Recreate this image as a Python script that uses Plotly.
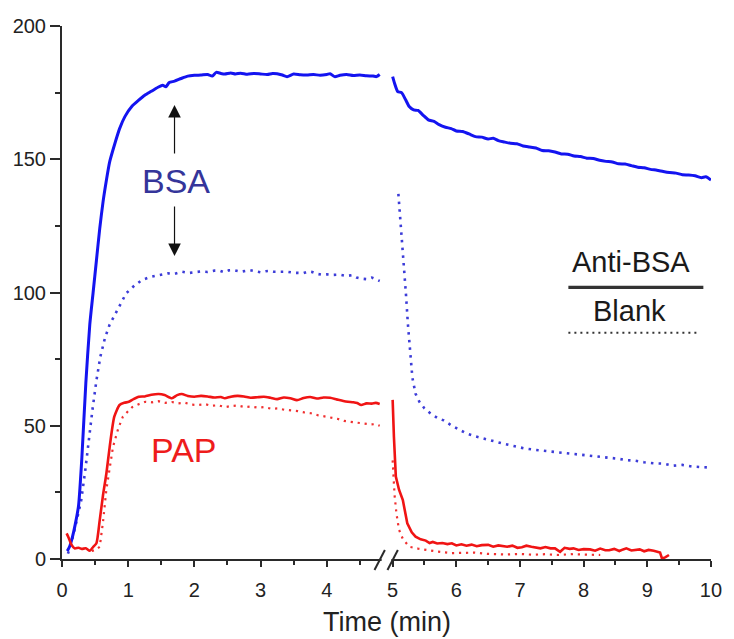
import plotly.graph_objects as go

# Binding response vs time; the time axis is broken between the
# association phase (0-4.8 min) and the dissociation phase (5-10 min).

# BSA on the anti-BSA surface (solid blue)
bsa_anti_t1 = [0.08, 0.12, 0.16, 0.20, 0.25, 0.30, 0.36, 0.42, 0.47, 0.52, 0.57, 0.62, 0.67, 0.72,
               0.80, 0.87, 0.95, 1.06, 1.15, 1.25, 1.35, 1.45, 1.52, 1.57, 1.62, 1.70, 1.80, 1.90,
               2.00, 2.10, 2.20, 2.27, 2.33, 2.40, 2.46, 2.55, 2.62, 2.70, 2.80, 2.90, 3.00, 3.10,
               3.18, 3.25, 3.33, 3.40, 3.50, 3.60, 3.70, 3.80, 3.90, 4.00, 4.05, 4.12, 4.20, 4.30,
               4.40, 4.50, 4.60, 4.70, 4.75, 4.80]
bsa_anti_v1 = [3.0, 5.0, 8.5, 13.0, 20.0, 38.0, 66.0, 88.0, 100.0, 112.0, 124.0, 134.0, 142.0, 149.0,
               156.0, 161.5, 166.0, 170.0, 172.0, 174.0, 175.5, 177.0, 177.8, 177.2, 178.8, 179.3, 180.3, 181.2,
               181.5, 181.6, 181.8, 181.2, 182.6, 182.2, 182.0, 182.4, 182.0, 182.3, 181.9, 182.2, 182.0, 181.8,
               182.2, 182.1, 181.6, 181.0, 182.0, 181.7, 181.6, 181.8, 181.5, 181.8, 182.1, 181.0, 181.5, 181.8,
               181.4, 181.6, 181.3, 181.2, 181.0, 181.8]
bsa_anti_t2 = [5.00, 5.03, 5.08, 5.14, 5.20, 5.26, 5.33, 5.40, 5.48, 5.56, 5.65, 5.73, 5.83, 5.92,
               6.00, 6.10, 6.20, 6.30, 6.40, 6.50, 6.58, 6.66, 6.75, 6.85, 6.95, 7.05, 7.15, 7.25,
               7.35, 7.45, 7.55, 7.65, 7.75, 7.85, 7.95, 8.05, 8.15, 8.25, 8.35, 8.45, 8.55, 8.65,
               8.75, 8.85, 8.95, 9.05, 9.15, 9.25, 9.35, 9.45, 9.55, 9.65, 9.75, 9.85, 9.92, 10.0]
bsa_anti_v2 = [181.0, 178.5, 175.4, 175.0, 172.5, 169.8, 168.5, 168.3, 166.5, 164.8, 164.2, 163.0, 162.0, 161.5,
               160.6, 160.4, 159.5, 158.5, 158.3, 157.6, 157.9, 157.0, 156.5, 156.0, 155.8, 155.0, 154.6, 154.2,
               153.3, 153.2, 152.7, 152.0, 151.9, 151.2, 151.0, 150.4, 150.3, 149.6, 149.2, 149.0, 148.3, 148.2,
               147.6, 147.0, 146.8, 146.2, 145.9, 145.4, 145.0, 144.8, 144.2, 144.1, 143.8, 143.1, 143.4, 142.2]

# BSA on the blank surface (dotted blue)
bsa_blank_t1 = [0.09, 0.14, 0.20, 0.25, 0.29, 0.35, 0.40, 0.46, 0.52, 0.58, 0.65, 0.72, 0.77, 0.87,
                0.97, 1.09, 1.21, 1.33, 1.46, 1.60, 1.70, 1.81, 1.91, 2.00, 2.10, 2.20, 2.30, 2.38,
                2.45, 2.52, 2.60, 2.70, 2.78, 2.84, 2.92, 3.00, 3.08, 3.15, 3.20, 3.30, 3.40, 3.50,
                3.58, 3.65, 3.72, 3.78, 3.85, 3.92, 4.00, 4.10, 4.20, 4.30, 4.38, 4.45, 4.52, 4.60,
                4.68, 4.75, 4.80]
bsa_blank_v1 = [2.0, 6.0, 12.0, 17.0, 22.0, 33.0, 44.0, 56.0, 67.0, 76.0, 83.0, 88.0, 90.3, 95.0,
                99.7, 102.5, 104.7, 105.8, 106.6, 107.2, 107.0, 107.8, 107.3, 107.6, 107.9, 107.7, 108.2, 108.2,
                107.6, 108.3, 108.4, 107.8, 108.0, 108.4, 108.0, 107.6, 108.0, 108.1, 107.8, 107.9, 107.8, 107.4,
                107.2, 107.3, 107.9, 107.7, 107.0, 106.7, 106.8, 106.6, 106.7, 106.2, 106.5, 105.6, 105.2, 105.0,
                105.6, 104.9, 104.3]
bsa_blank_t2 = [5.09, 5.12, 5.15, 5.18, 5.21, 5.24, 5.27, 5.31, 5.36, 5.42, 5.50, 5.60, 5.70, 5.80,
                5.92, 6.04, 6.15, 6.30, 6.45, 6.60, 6.75, 6.90, 7.07, 7.22, 7.38, 7.50, 7.63, 7.80,
                7.95, 8.10, 8.25, 8.40, 8.55, 8.67, 8.80, 8.95, 9.10, 9.25, 9.40, 9.55, 9.70, 9.85, 10.0]
bsa_blank_v2 = [137.0, 128.0, 118.0, 108.0, 99.0, 88.0, 78.0, 68.0, 62.0, 59.0, 56.5, 54.5, 53.0, 52.0,
                50.2, 48.6, 47.2, 46.0, 45.0, 44.0, 43.2, 42.4, 41.5, 41.0, 40.6, 40.3, 40.0, 39.5,
                39.2, 38.7, 38.4, 37.9, 37.6, 37.1, 36.9, 36.3, 35.9, 35.8, 35.0, 35.3, 34.7, 34.5, 34.3]

# PAP on the anti-BSA surface (solid red)
pap_anti_t1 = [0.07, 0.10, 0.14, 0.19, 0.25, 0.30, 0.36, 0.42, 0.47, 0.52, 0.57, 0.62, 0.67, 0.72,
               0.79, 0.87, 0.94, 1.01, 1.08, 1.16, 1.25, 1.35, 1.46, 1.55, 1.66, 1.74, 1.81, 1.90,
               2.00, 2.10, 2.20, 2.30, 2.40, 2.46, 2.55, 2.65, 2.75, 2.85, 2.95, 3.05, 3.15, 3.25,
               3.35, 3.45, 3.55, 3.65, 3.75, 3.85, 3.95, 4.05, 4.15, 4.25, 4.32, 4.40, 4.46, 4.52,
               4.60, 4.68, 4.74, 4.80]
pap_anti_v1 = [9.6, 8.0, 5.5, 4.0, 4.2, 3.8, 4.0, 3.1, 4.5, 5.9, 14.6, 24.0, 32.0, 42.0,
               53.4, 57.8, 58.6, 59.0, 60.0, 60.9, 61.0, 61.6, 61.9, 61.5, 60.3, 61.5, 61.9, 61.2,
               60.9, 61.2, 61.0, 60.6, 60.8, 60.3, 60.9, 61.2, 61.0, 60.5, 60.7, 60.9, 60.5, 60.0,
               60.6, 60.3, 59.6, 60.4, 60.8, 60.2, 60.6, 60.5, 59.9, 59.3, 59.0, 58.8, 58.5, 57.8,
               58.4, 58.3, 58.6, 58.2]
pap_anti_t2 = [5.00, 5.01, 5.02, 5.05, 5.10, 5.16, 5.23, 5.30, 5.36, 5.44, 5.52, 5.58, 5.63, 5.70,
               5.78, 5.86, 5.93, 6.00, 6.08, 6.16, 6.24, 6.32, 6.40, 6.50, 6.58, 6.66, 6.74, 6.80,
               6.88, 6.96, 7.03, 7.10, 7.18, 7.26, 7.32, 7.40, 7.48, 7.55, 7.63, 7.70, 7.78, 7.84,
               7.92, 8.00, 8.10, 8.18, 8.26, 8.34, 8.40, 8.48, 8.56, 8.62, 8.67, 8.75, 8.82, 8.88,
               8.95, 9.02, 9.10, 9.16, 9.20, 9.23, 9.28, 9.34]
pap_anti_v2 = [59.7, 52.0, 45.9, 30.9, 26.0, 22.1, 13.4, 10.0, 8.4, 7.4, 6.9, 6.0, 6.4, 5.8,
               6.0, 5.6, 5.9, 5.1, 5.5, 5.0, 5.4, 4.8, 5.2, 5.3, 4.6, 5.1, 4.7, 4.6,
               5.0, 4.2, 4.4, 5.0, 4.6, 4.1, 4.0, 4.5, 4.0, 4.0, 2.7, 4.2, 3.8, 4.0,
               3.4, 3.7, 3.6, 3.1, 3.9, 3.3, 3.3, 3.8, 3.0, 3.6, 4.0, 3.2, 3.4, 3.6,
               2.9, 3.4, 3.1, 2.7, 2.4, 0.2, 0.6, 1.5]

# PAP on the blank surface (dotted red)
pap_blank_t1 = [0.45, 0.52, 0.57, 0.62, 0.67, 0.72, 0.77, 0.85, 0.92, 1.00, 1.06, 1.15, 1.26, 1.36,
                1.46, 1.56, 1.66, 1.76, 1.86, 1.96, 2.06, 2.16, 2.26, 2.36, 2.46, 2.56, 2.66, 2.76,
                2.86, 2.96, 3.06, 3.16, 3.26, 3.36, 3.46, 3.56, 3.66, 3.76, 3.86, 3.96, 4.06, 4.16,
                4.26, 4.36, 4.46, 4.56, 4.66, 4.74, 4.80]
pap_blank_v1 = [3.0, 3.5, 4.6, 14.0, 26.0, 34.0, 42.0, 49.0, 53.4, 55.5, 57.0, 58.0, 59.0, 58.8,
                59.2, 58.6, 58.9, 58.4, 58.6, 57.9, 57.8, 58.1, 57.5, 57.7, 57.0, 57.4, 57.6, 57.0,
                57.2, 56.8, 57.0, 56.4, 56.5, 56.0, 55.8, 55.5, 55.0, 54.7, 54.0, 53.6, 53.0, 52.6,
                51.8, 51.5, 51.3, 50.8, 50.5, 50.6, 50.0]
pap_blank_t2 = [5.00, 5.03, 5.06, 5.10, 5.16, 5.26, 5.40, 5.52, 5.70, 5.93, 6.10, 6.29, 6.50, 6.81,
                7.00, 7.20, 7.40, 7.60, 7.80, 8.05, 8.26]
pap_blank_v2 = [37.0, 24.0, 17.0, 11.0, 7.5, 4.6, 3.9, 3.4, 2.8, 2.2, 2.3, 2.4, 1.9, 1.7,
                1.9, 1.6, 1.8, 1.5, 1.8, 1.5, 1.5]

x_ticks_left = [0, 1, 2, 3, 4]
x_ticks_right = [5, 6, 7, 8, 9, 10]
y_ticks = [0, 50, 100, 150, 200]

left_range = [0, 4.88]
right_range = [4.88, 10]
split = 0.4977          # where the left time segment hands over to the right one

BLUE = "#1414f0"
BLUE_DOT = "#3c3cd8"
RED = "#f01414"
RED_DOT = "#f03030"
AXIS = "#2a2a2a"
FONT = "Arial, Liberation Sans, sans-serif"

fig = go.Figure()


def add(t, v, axis, color, width, dash="solid", shape="linear"):
    fig.add_trace(go.Scatter(x=t, y=v, xaxis=axis, yaxis="y", mode="lines",
                             line=dict(color=color, width=width, dash=dash,
                                       shape=shape, smoothing=0.6),
                             showlegend=False, hoverinfo="skip"))


add(bsa_blank_t1, bsa_blank_v1, "x", BLUE_DOT, 2.6, "2.5px,5.2px")
add(bsa_blank_t2, bsa_blank_v2, "x2", BLUE_DOT, 2.6, "2.5px,5.2px")
add(pap_blank_t1, pap_blank_v1, "x", RED_DOT, 2.2, "2.2px,4.8px")
add(pap_blank_t2, pap_blank_v2, "x2", RED_DOT, 2.2, "2.2px,4.8px")
add(bsa_anti_t1, bsa_anti_v1, "x", BLUE, 3.0, shape="spline")
add(bsa_anti_t2, bsa_anti_v2, "x2", BLUE, 3.0, shape="spline")
add(pap_anti_t1, pap_anti_v1, "x", RED, 2.6, shape="spline")
add(pap_anti_t2, pap_anti_v2, "x2", RED, 2.6)

tickfont = dict(family=FONT, size=20, color="#222")
common_x = dict(showline=True, linecolor=AXIS, linewidth=2, ticks="outside",
                ticklen=6, tickwidth=2, tickcolor=AXIS, tickmode="array",
                showgrid=False, zeroline=False, anchor="y", tickfont=tickfont,
                ticklabelstandoff=6,
                minor=dict(ticks="outside", tick0=0, dtick=0.5, ticklen=4,
                           tickwidth=1.6, tickcolor=AXIS, showgrid=False))

fig.update_layout(
    width=734, height=639,
    margin=dict(l=62, r=15, t=26, b=80),
    paper_bgcolor="white", plot_bgcolor="white",
    xaxis=dict(domain=[0, split], range=left_range, tickvals=x_ticks_left, **common_x),
    xaxis2=dict(domain=[split, 1], range=right_range, tickvals=x_ticks_right, **common_x),
    yaxis=dict(range=[0, 200], tickmode="array", tickvals=y_ticks, anchor="x",
               showline=True, linecolor=AXIS, linewidth=2, ticks="outside",
               ticklen=10, tickwidth=2, tickcolor=AXIS, showgrid=False,
               zeroline=False, tickfont=tickfont,
               minor=dict(ticks="outside", tick0=0, dtick=25, ticklen=5,
                          tickwidth=1.6, tickcolor=AXIS, showgrid=False)),
)

# axis break marks "//" on the time axis
fig.add_shape(type="rect", xref="paper", yref="paper", x0=0.4925, x1=0.5075,
              y0=-0.008, y1=0.008, fillcolor="white", line=dict(width=0), layer="above")
for xa in (0.4815, 0.5015):
    fig.add_shape(type="line", xref="paper", yref="paper", x0=xa, y0=-0.0206,
                  x1=xa + 0.0160, y1=0.0169, line=dict(color=AXIS, width=2), layer="above")

# key: solid = Anti-BSA surface, dotted = Blank surface
fig.add_shape(type="line", xref="x2", yref="y", x0=7.76, x1=9.88, y0=101.95, y1=101.95,
              line=dict(color="#333", width=3.3))
fig.add_shape(type="line", xref="x2", yref="y", x0=7.76, x1=9.83, y0=84.9, y1=84.9,
              line=dict(color="#333", width=2.2, dash="2px,4px"))

annotations = [
    dict(text="Anti-BSA", x=8.75, y=111.3, xref="x2", yref="y", showarrow=False,
         font=dict(family=FONT, size=29, color="#1a1a1a")),
    dict(text="Blank", x=8.72, y=93.1, xref="x2", yref="y", showarrow=False,
         font=dict(family=FONT, size=29, color="#1a1a1a")),
    dict(text="BSA", x=1.716, y=141.8, xref="x", yref="y", showarrow=False,
         font=dict(family=FONT, size=34, color="#35359a")),
    dict(text="PAP", x=1.85, y=40.9, xref="x", yref="y", showarrow=False,
         font=dict(family=FONT, size=34, color="#ee1c1c")),
    dict(text="", x=1.70, y=170.4, xref="x", yref="y", ax=0, ay=50, showarrow=True,
         arrowhead=2, arrowsize=2.1, arrowwidth=1.2, arrowcolor="#111"),
    dict(text="", x=1.70, y=113.7, xref="x", yref="y", ax=0, ay=-51, showarrow=True,
         arrowhead=2, arrowsize=2.1, arrowwidth=1.2, arrowcolor="#111"),
    dict(text="Time (min)", x=0.5, y=-0.118, xref="paper", yref="paper", showarrow=False,
         yanchor="middle", font=dict(family=FONT, size=27, color="#222")),
]
fig.update_layout(annotations=annotations)

fig.write_html("out.html")
